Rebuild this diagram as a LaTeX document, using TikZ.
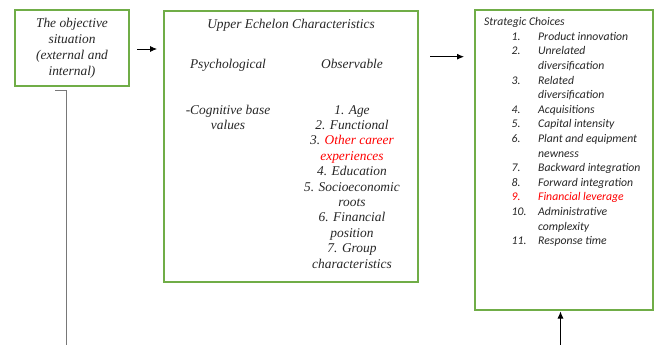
\documentclass[tikz,border=0pt]{standalone}
\usepackage{fontspec}
\setmainfont{Liberation Serif}
\newfontfamily\calfont{Carlito}
\usetikzlibrary{arrows.meta}

\definecolor{boxgreen}{RGB}{112,173,71}
\definecolor{txtred}{RGB}{255,0,0}
\definecolor{txtdark}{RGB}{38,38,38}
\definecolor{linegray}{RGB}{120,120,120}

\tikzset{
	greenbox/.style={draw=boxgreen, line width=2pt, inner sep=0pt},
	sertext/.style={font=\fontsize{13.4}{15.4}\selectfont\itshape,
		text=txtdark, align=center, inner sep=0pt},
	caltext/.style={font=\calfont\fontsize{11.7}{14.6}\selectfont\itshape,
		text=txtdark, align=left, inner sep=0pt},
	arr/.style={-{Latex[length=7pt,width=6pt]}, line width=0.8pt},
}
\newcommand{\numbox}[1]{\makebox[26.5pt][l]{#1}}

\begin{document}
\begin{tikzpicture}[x=1pt, y=-1pt]
	\useasboundingbox (0,0) rectangle (656,345);

	% boxes
	\node[greenbox, sertext, minimum width=114pt, minimum height=76pt,
		font=\fontsize{13.4}{16}\selectfont\itshape,
		] (obj) at (72,48) {The objective\\ situation\\ (external and\\ internal)};
	\node[greenbox, minimum width=254pt, minimum height=271pt,
		] (ue) at (291,146.5) {};
	\node[greenbox, minimum width=178pt, minimum height=300pt,
		] (sc) at (564,160) {};

	% upper echelon texts
	\node[sertext, anchor=north] (uetitle) at (291,17.2) {\strut Upper Echelon Characteristics};
	\node[sertext, anchor=north] (psych) at (228,57.2) {\strut Psychological};
	\node[sertext, anchor=north] (observ) at (352,57.2) {\strut Observable};
	\node[sertext, anchor=north] (psychlist) at (228,103.2) {\strut -Cognitive base\\ values};
	\node[sertext, anchor=north] (observlist) at (352,103.2) {\strut 1. Age\\ 2. Functional\\
		3. \textcolor{txtred}{Other career}\\ \textcolor{txtred}{experiences}\\
		4. Education\\ 5. Socioeconomic\\ roots\\ 6. Financial\\ position\\
		7. Group\\ characteristics};

	% strategic choices
	\node[caltext, anchor=north west] (sclist) at (484,15.3) {\strut Strategic Choices\\
		\hspace*{27.5pt}\numbox{1.}Product innovation\\
		\hspace*{27.5pt}\numbox{2.}Unrelated\\
		\hspace*{54pt}diversification\\
		\hspace*{27.5pt}\numbox{3.}Related\\
		\hspace*{54pt}diversification\\
		\hspace*{27.5pt}\numbox{4.}Acquisitions\\
		\hspace*{27.5pt}\numbox{5.}Capital intensity\\
		\hspace*{27.5pt}\numbox{6.}Plant and equipment\\
		\hspace*{54pt}newness\\
		\hspace*{27.5pt}\numbox{7.}Backward integration\\
		\hspace*{27.5pt}\numbox{8.}Forward integration\\
		\hspace*{27.5pt}\textcolor{txtred}{\numbox{9.}Financial leverage}\\
		\hspace*{27.5pt}\numbox{10.}Administrative\\
		\hspace*{54pt}complexity\\
		\hspace*{27.5pt}\numbox{11.}Response time};

	% connectors
	\coordinate (a2start) at (430,56.7);
	\coordinate (linestart) at (55,90.7);
	\coordinate (linebot) at (66,345);
	\coordinate (upbot) at (560.5,345);

	\draw[arr, shorten <=7pt, shorten >=6pt] ([yshift=-1pt]obj.east) -- ([yshift=-1pt]obj.east -| ue.west);
	\draw[arr, shorten >=10pt] (a2start) -- (a2start -| sc.west);
	\draw[linegray, line width=0.8pt] (linestart) -| (linebot);
	\draw[arr, shorten >=0.5pt] (upbot) -- (upbot |- sc.south);
\end{tikzpicture}
\end{document}
